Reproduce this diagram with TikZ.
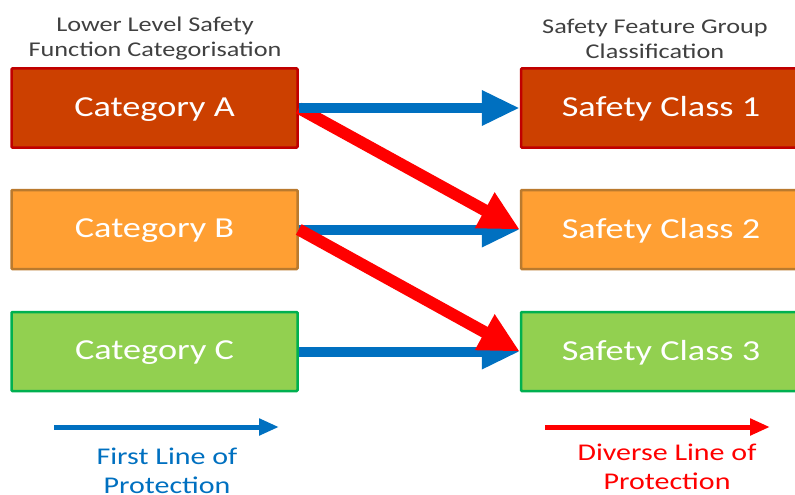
\documentclass[tikz,border=0pt]{standalone}
\usepackage{fontspec}
\setmainfont{Carlito}[FakeStretch=1.25]
\usepackage{tikz}
\usetikzlibrary{arrows.meta}
\definecolor{catA}{HTML}{CC4000}
\definecolor{catAline}{HTML}{C00000}
\definecolor{catB}{HTML}{FF9F33}
\definecolor{catBline}{HTML}{BA7A2E}
\definecolor{catC}{HTML}{92D050}
\definecolor{catCline}{HTML}{00B050}
\definecolor{firstblue}{HTML}{0070C0}
\definecolor{diversered}{HTML}{FF0000}
\definecolor{headgray}{HTML}{404040}

\begin{document}
\begin{tikzpicture}[x=1pt, y=-1pt]
        \tikzstyle{catbox} = [draw, line width=2.5pt, rectangle, rounded corners=1pt, minimum width=286pt, minimum height=79pt, text depth=2.5pt, text=white, font=\fontsize{29}{34}\selectfont]
        \tikzstyle{classbox} = [catbox, minimum width=280pt]
        \tikzstyle{heading} = [align=center, text=headgray, font=\fontsize{21}{25}\selectfont]
        \tikzstyle{firstline} = [-{Triangle[length=38pt, width=33pt]}, line width=10pt, firstblue]
        \tikzstyle{diverseline} = [-{Triangle[length=40pt, width=38pt]}, line width=12pt, diversered]
        \useasboundingbox (0,0) rectangle (795,495);
        % left column
        \node (lowhead) [heading] at (155,39) {Lower Level Safety\\Function Categorisation};
        \node (catA) [catbox, fill=catA, draw=catAline] at (154.5,108) {Category A};
        \node (catB) [catbox, fill=catB, draw=catBline] at (154.5,229.5) {Category B};
        \node (catC) [catbox, fill=catC, draw=catCline] at (154.5,351.5) {Category C};
        % right column
        \node (sfghead) [heading] at (655,39) {Safety Feature Group\\Classification};
        \node (class1) [classbox, fill=catA, draw=catAline] at (661,108) {Safety Class 1};
        \node (class2) [classbox, fill=catB, draw=catBline] at (661,229.5) {Safety Class 2};
        \node (class3) [classbox, fill=catC, draw=catCline] at (661,351.5) {Safety Class 3};
        \draw[firstline] (catB) -- (class2);
        \draw[firstline] (catC) -- (class3);
        \draw[diverseline] (catA.east) -- (class2.west);
        \draw[diverseline] (catB.east) -- (class3.west);
        \draw[firstline] (catA) -- (class1);
        % legend
        \coordinate (fstart) at (54,427);
        \coordinate (fend) at (279,427);
        \coordinate (dstart) at (545,427);
        \coordinate (dend) at (770,427);
        \draw[-{Triangle[length=20pt, width=16pt]}, line width=5pt, firstblue] (fstart) -- (fend);
        \draw[-{Triangle[length=20pt, width=16pt]}, line width=5pt, diversered] (dstart) -- (dend);
        \node (firstlabel) [align=center, anchor=north, text=firstblue, font=\fontsize{24}{29}\selectfont] at (167,444) {First Line of\\Protection};
        \node (diverselabel) [align=center, anchor=north, text=diversered, font=\fontsize{24}{29}\selectfont] at (667,440) {Diverse Line of\\Protection};
    \end{tikzpicture}
\end{document}
